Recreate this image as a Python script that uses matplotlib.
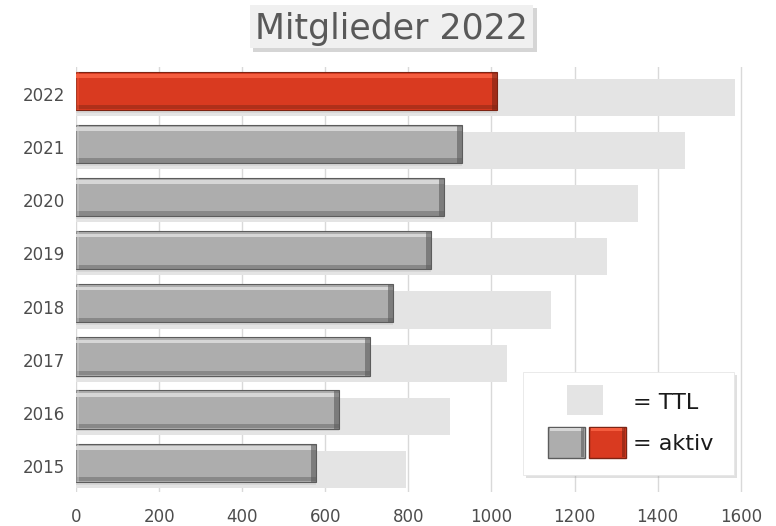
import numpy as np
import matplotlib.pyplot as plt
from matplotlib.patches import Rectangle

years = ["2015", "2016", "2017", "2018", "2019", "2020", "2021", "2022"]
ttl = [794, 900, 1037, 1143, 1278, 1352, 1465, 1586]
aktiv = [577, 633, 707, 763, 854, 885, 929, 1013]
xticks = [0, 200, 400, 600, 800, 1000, 1200, 1400, 1600]

TTL_C = "#e4e4e4"
GRAY = ("#adadad", "#d6d6d6", "#5c5c5c")
RED = ("#d93a20", "#f45c3e", "#7c2414")
TXT = "#4d4d4d"

fig = plt.figure(figsize=(7.76, 5.26), dpi=100)
ax = fig.add_axes([0.098, 0.0637, 0.878, 0.8080])

y = np.arange(len(years))
ax.barh(y - 0.065, ttl, height=0.70, color=TTL_C, zorder=1)

colors = [GRAY] * (len(years) - 1) + [RED]
base = [c[0] for c in colors]
light = [c[1] for c in colors]
dark = [c[2] for c in colors]
ya = y + 0.06
h = 0.72
# soft drop shadow under the active bars
ax.barh(ya - 0.05, aktiv, height=h, color="#000000", alpha=0.06, zorder=2)
ax.barh(ya, aktiv, height=h, color=base, edgecolor=dark, linewidth=0.8, zorder=3)
# bevel: top highlight, bottom shade, right shade
ax.barh(ya + h / 2 - 0.08, aktiv, height=0.07, color=light, zorder=4)
ax.barh(ya - h / 2 + 0.05, aktiv, height=0.08, color=dark, alpha=0.45, zorder=4)
ax.barh(ya, [12] * len(aktiv), left=[a - 12 for a in aktiv], height=h,
        color=dark, alpha=0.6, zorder=4)
ax.barh(ya, [8] * len(aktiv), left=[0] * len(aktiv), height=h,
        color=light, alpha=0.4, zorder=4)

ax.set_xlim(0, 1640)
ax.set_ylim(-0.5, 7.5)
ax.set_xticks(xticks)
ax.set_yticks(y)
ax.set_yticklabels(years)
ax.tick_params(length=0, labelsize=12, colors=TXT, pad=8)
ax.tick_params(axis="x", pad=11)
ax.xaxis.grid(True, color="#d9d9d9", lw=1.0, zorder=0)
ax.set_axisbelow(True)
for s in ax.spines.values():
    s.set_visible(False)


def fx(px):
    return px / 776


def fy(py):
    return 1 - py / 526


def box(x0, y0, x1, y1, **kw):
    fig.patches.append(Rectangle((fx(x0), fy(y1)), fx(x1 - x0), (y1 - y0) / 526,
                                 transform=fig.transFigure, **kw))


# title box with shadow
box(253, 8, 537, 52, fc="#888888", alpha=0.35, ec="none", zorder=0)
box(250, 5, 533, 48, fc="#f0f0f0", ec="none", zorder=1)
fig.text(fx(391.5), fy(29), "Mitglieder 2022", ha="center", va="center",
         fontsize=25, color="#595959", zorder=2)

# legend box drawn by hand
box(526, 375, 737, 478, fc="#999999", alpha=0.3, ec="none", zorder=5)
box(523, 372, 734, 475, fc="white", ec="#e6e6e6", lw=0.6, zorder=6)
box(567, 385, 603, 415, fc=TTL_C, ec="none", zorder=7)
for x0, c in [(548, GRAY), (589, RED)]:
    box(x0, 427, x0 + 37, 458, fc=c[0], ec=c[2], lw=1.0, zorder=7)
    box(x0 + 2, 428, x0 + 35, 431, fc=c[1], ec="none", zorder=8)
    box(x0 + 33, 428, x0 + 36, 457, fc=c[2], ec="none", alpha=0.6, zorder=8)
fig.text(fx(633), fy(403), "= TTL", fontsize=16, color="#1a1a1a",
         va="center", ha="left", zorder=9)
fig.text(fx(633), fy(444), "= aktiv", fontsize=16, color="#1a1a1a",
         va="center", ha="left", zorder=9)

fig.savefig("out.png", dpi=100)
